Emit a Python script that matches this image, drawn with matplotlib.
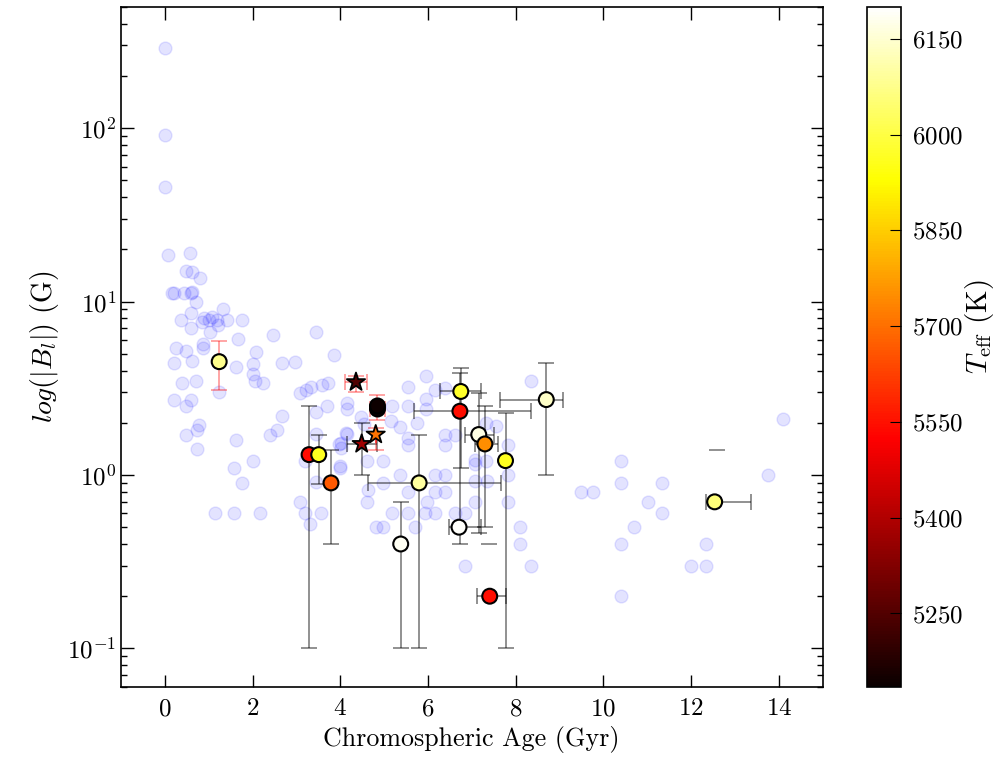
import numpy as np
import matplotlib
matplotlib.use("Agg")
import matplotlib.pyplot as plt
import matplotlib.colors as colors
from matplotlib.ticker import LogLocator, FixedLocator

plt.rcParams["font.family"] = "serif"
plt.rcParams["font.serif"] = ["cmr10"]
plt.rcParams["mathtext.fontset"] = "cm"
plt.rcParams["axes.formatter.use_mathtext"] = True
plt.rcParams["axes.unicode_minus"] = True

# background sample: chromospheric age (Gyr), |B_l| (G)
bg_age = [0.0, 0.0, 0.0, 0.08, 0.57, 0.48, 0.63, 0.81,
          0.17, 0.2, 0.44, 0.59, 0.63,
          0.72, 1.33, 0.59,
          0.38, 0.85, 0.89, 1.0, 1.08, 1.19, 1.42, 1.76,
          0.59, 1.04, 1.22, 1.68, 2.47, 3.45,
          0.25, 0.48, 0.87, 0.87, 2.08, 3.85,
          0.21, 0.63, 1.24, 1.63, 2.0, 2.67, 2.98,
          2.0, 2.06, 2.23, 0.4, 0.72, 1.23,
          0.21, 0.59, 0.49,
          3.08, 3.23, 3.34, 3.59, 3.72,
          4.16, 4.16, 3.7, 3.45, 2.67,
          2.56, 2.4, 0.78, 0.74, 0.49, 1.63, 3.45, 4.16, 3.98, 0.74,
          2.0, 1.58, 3.2, 4.0, 1.76, 3.45, 3.08, 3.2, 3.57, 1.15, 1.58, 2.16, 3.32,
          4.62, 4.81, 4.98, 5.17, 5.55, 5.71,
          5.96, 8.36, 5.55, 6.17, 6.39,
          5.19, 5.55, 5.96, 5.96,
          4.47, 4.55, 5.15, 5.36, 5.75, 7.32, 7.56,
          6.39, 6.62, 4.02, 4.02, 4.13, 5.55, 5.55, 6.39,
          7.07, 7.07, 7.32, 7.83, 7.83,
          4.0, 4.62, 4.98, 5.36, 6.17, 6.39,
          4.64, 4.98, 5.55, 6.17, 6.39, 7.07, 7.34,
          5.98, 7.07, 7.83,
          5.94, 6.17, 6.62, 6.84,
          8.09, 8.09, 6.84, 8.36,
          9.49, 9.77, 10.4, 10.4, 11.35, 11.03, 11.35, 10.71, 10.4, 10.4,
          12.01, 12.34, 12.34, 13.75, 14.1]
bg_b = [290, 91, 46, 18.5, 19, 15, 14.7, 13.6,
        11.2, 11.2, 11.2, 11.2, 11.4,
        9.9, 9.0, 8.6,
        7.8, 7.6, 8.0, 7.8, 8.1, 7.8, 7.8, 7.8,
        7.0, 6.7, 7.3, 6.1, 6.4, 6.7,
        5.4, 5.2, 5.7, 5.4, 5.15, 4.9,
        4.4, 4.55, 4.6, 4.2, 4.35, 4.45, 4.5,
        3.8, 3.5, 3.4, 3.4, 3.5, 3.0,
        2.7, 2.7, 2.5,
        2.96, 3.1, 3.2, 3.3, 3.4,
        2.6, 2.4, 2.5, 2.3, 2.2,
        1.82, 1.7, 1.93, 1.82, 1.7, 1.6, 1.72, 1.72, 1.5, 1.41,
        1.2, 1.1, 1.2, 1.1, 0.9, 0.91, 0.7, 0.6, 0.6, 0.6, 0.6, 0.6, 0.52,
        0.7, 0.5, 0.5, 0.6, 0.6, 0.5,
        3.7, 3.5, 3.2, 3.1, 3.16,
        2.5, 2.5, 2.75, 2.4,
        2.15, 1.97, 2.04, 1.9, 2.0, 2.0, 1.92,
        1.7, 1.7, 1.53, 1.43, 1.75, 1.63, 1.49, 1.49,
        1.22, 1.15, 1.2, 1.49, 1.0,
        1.12, 1.2, 1.2, 1.0, 1.0, 1.0,
        0.82, 0.9, 0.8, 0.8, 0.8, 0.92, 0.92,
        0.7, 0.7, 0.7,
        0.6, 0.6, 0.6, 0.6,
        0.5, 0.4, 0.3, 0.3,
        0.8, 0.8, 1.21, 0.9, 0.9, 0.7, 0.6, 0.5, 0.4, 0.2,
        0.3, 0.3, 0.4, 1.0, 2.1]

# highlighted stars: age, |B_l|, Teff, error limits
age = [3.29, 3.51, 3.79, 5.80, 5.38, 6.75, 6.73, 6.71, 7.16, 7.30, 7.77, 8.70, 7.41, 12.54, 1.24, 4.85, 4.85]
bl = [1.31, 1.31, 0.9, 0.9, 0.4, 3.03, 2.33, 0.5, 1.71, 1.51, 1.21, 2.72, 0.2, 0.7, 4.5, 2.40, 2.50]
teff = [5540, 5960, 5665, 6100, 6184, 5975, 5545, 6195, 6168, 5747, 5960, 6140, 5545, 6057, 6078, 5140, 5140]
age_lo = [3.29, 3.51, 3.79, 4.64, 5.38, 6.27, 5.69, 6.47, 6.84, 7.07, 7.77, 7.64, 7.11, 12.34, 1.24, 4.68, 4.85]
age_hi = [3.29, 3.51, 3.79, 7.66, 5.38, 7.20, 8.34, 7.20, 7.51, 7.60, 7.77, 9.07, 7.77, 13.38, 1.24, 5.02, 4.85]
bl_lo = [0.1, 0.89, 0.4, 0.1, 0.1, 1.1, 0.4, 0.5, 0.46, 0.5, 0.1, 1.0, 0.2, 0.7, 3.07, 2.08, 2.50]
bl_hi = [2.5, 1.69, 1.4, 1.69, 0.7, 4.16, 3.86, 0.5, 2.96, 2.5, 2.27, 4.4, 0.2, 0.7, 5.93, 2.9, 2.50]
red_err = [False] * 14 + [True, True, False]

# star-shaped markers
st_age = [4.36, 4.49, 4.81]
st_bl = [3.43, 1.51, 1.71]
st_teff = [5250, 5370, 5706]
st_age_lo = [4.12, 4.16, 4.81]
st_age_hi = [4.60, 4.84, 4.81]
st_bl_lo = [2.99, 1.0, 1.4]
st_bl_hi = [3.73, 2.0, 1.86]
st_red_err = [True, False, True]

# loose error caps
cap_age = [12.6, 7.4]
cap_bl = [1.4, 0.4]

tmin, tmax = 5135, 6200

fig = plt.figure(figsize=(10.08, 7.59), dpi=100)
ax = fig.add_axes([0.12, 0.095, 0.696, 0.896])
cax = fig.add_axes([0.86, 0.095, 0.034, 0.896])

ax.scatter(bg_age, bg_b, s=85, color="b", alpha=0.11, linewidths=1.0, zorder=1)


def draw_err(x, y, xlo, xhi, ylo, yhi, red):
    x = np.array(x)
    y = np.array(y)
    xerr = [x - np.array(xlo), np.array(xhi) - x]
    yerr = [y - np.array(ylo), np.array(yhi) - y]
    col = "r" if red else "k"
    alpha = 0.45 if red else 0.55
    ax.errorbar(x, y, xerr=xerr, yerr=yerr, fmt="none", ecolor=col, alpha=alpha,
                elinewidth=1.1, capsize=6, capthick=1.1, zorder=2)


for flag in (False, True):
    idx = [i for i, r in enumerate(red_err) if r == flag]
    draw_err([age[i] for i in idx], [bl[i] for i in idx], [age_lo[i] for i in idx],
             [age_hi[i] for i in idx], [bl_lo[i] for i in idx], [bl_hi[i] for i in idx], flag)
    idx = [i for i, r in enumerate(st_red_err) if r == flag]
    if idx:
        draw_err([st_age[i] for i in idx], [st_bl[i] for i in idx], [st_age_lo[i] for i in idx],
                 [st_age_hi[i] for i in idx], [st_bl_lo[i] for i in idx], [st_bl_hi[i] for i in idx], flag)

ax.plot(cap_age, cap_bl, ls="none", marker="_", ms=12, mew=1.1, color="k", alpha=0.55, zorder=2)

norm = colors.Normalize(vmin=tmin, vmax=tmax)
sc = ax.scatter(age, bl, c=teff, cmap="hot", norm=norm, s=115, edgecolors="k",
                linewidths=1.5, zorder=3)
ax.scatter(st_age, st_bl, c=st_teff, cmap="hot", norm=norm, s=190, marker="*",
           edgecolors="k", linewidths=1.3, zorder=3)

ax.set_yscale("log")
ax.set_xlim(-1, 15)
ax.set_ylim(0.06, 500)
ax.set_xticks(np.arange(0, 15, 2))
ax.yaxis.set_minor_locator(LogLocator(base=10, subs=np.arange(2, 10)))

ax.set_xlabel("Chromospheric Age (Gyr)", fontsize=18.7)
ax.set_ylabel(r"$log(|B_l|)$ (G)", fontsize=20)

ax.tick_params(which="both", direction="in", top=True, right=True, labelsize=18)
ax.tick_params(which="major", length=9, width=1)
ax.tick_params(which="minor", length=4, width=1)
ax.tick_params(axis="x", which="minor", bottom=False, top=False)
ax.tick_params(axis="x", pad=8)
for sp in ax.spines.values():
    sp.set_linewidth(1.2)

cb = fig.colorbar(sc, cax=cax)
cb.set_ticks(FixedLocator([5250, 5400, 5550, 5700, 5850, 6000, 6150]))
cb.ax.tick_params(direction="in", length=8, labelsize=18, pad=8)
cb.outline.set_linewidth(1.2)
cb.set_label(r"$T_{\rm eff}$ (K)", fontsize=21, labelpad=0)
cb.ax.yaxis.label.set_y(0.53)

fig.savefig("out.png", dpi=100, facecolor="white")
